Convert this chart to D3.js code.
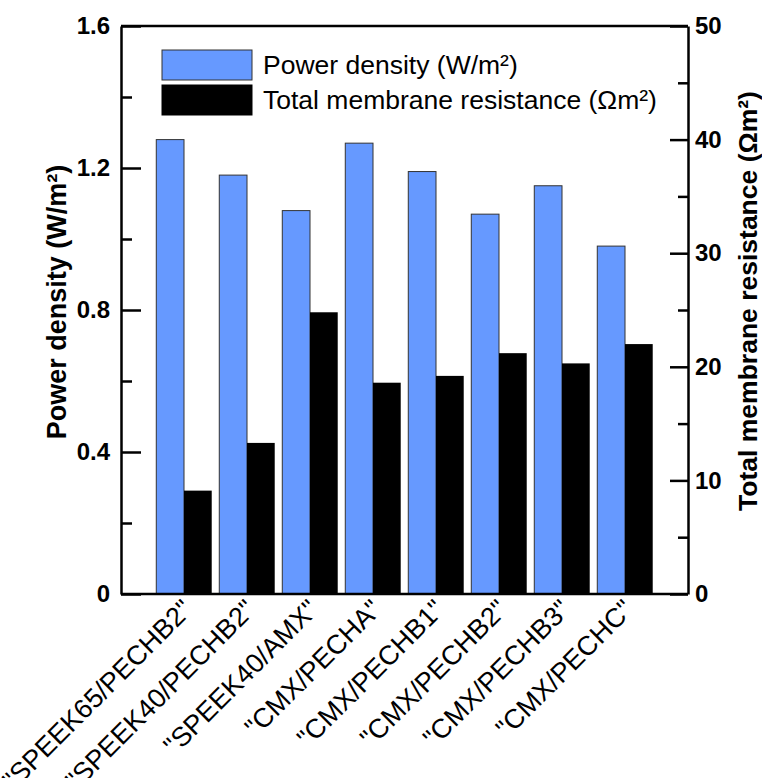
<!DOCTYPE html>
<html>
<head>
<meta charset="utf-8">
<script src="https://cdn.jsdelivr.net/npm/d3@7"></script>
<style>
    body { margin: 0; background: #fff; }
    text { font-family: "Liberation Sans", Arial, sans-serif; }
</style>
</head>
<body>
<div id="chart"></div>
<script>
// membrane pairs on the x axis
const pairs = [
    '"SPEEK65/PECHB2"',
    '"SPEEK40/PECHB2"',
    '"SPEEK40/AMX"',
    '"CMX/PECHA"',
    '"CMX/PECHB1"',
    '"CMX/PECHB2"',
    '"CMX/PECHB3"',
    '"CMX/PECHC"',
];
// power density, W/m2 (left axis)
const powerDensity = [1.28, 1.18, 1.08, 1.27, 1.19, 1.07, 1.15, 0.98];
// total membrane resistance, ohm m2 (right axis)
const resistance = [9.1, 13.3, 24.8, 18.6, 19.2, 21.2, 20.3, 22.0];

const leftTicks = [0, 0.4, 0.8, 1.2, 1.6];
const leftMinor = [0.2, 0.6, 1.0, 1.4];
const rightTicks = [0, 10, 20, 30, 40, 50];
const rightMinor = [5, 15, 25, 35, 45];

const legendLabels = ["Power density (W/m²)", "Total membrane resistance (Ωm²)"];

const paintChart = () => {
    const width = 762, height = 778;
    const left = 121, right = 688, top = 26, bottom = 594;
    const blue = "#6699ff";

    const svg = d3.select("#chart").append("svg")
        .attr("width", width)
        .attr("height", height);

    const x = d3.scaleLinear().domain([0, pairs.length + 1]).range([left, right]);
    const yL = d3.scaleLinear().domain([0, 1.6]).range([bottom, top]);
    const yR = d3.scaleLinear().domain([0, 50]).range([bottom, top]);
    const bw = 0.44; // bar width in x units

    // blue bars, left of each group centre
    svg.append("g")
        .selectAll("rect")
        .data(powerDensity)
        .enter()
        .append("rect")
        .attr("x", (d, i) => x(i + 1 - bw))
        .attr("width", x(bw) - x(0))
        .attr("y", d => yL(d))
        .attr("height", d => yL(0) - yL(d))
        .style("fill", blue)
        .style("stroke", "#333")
        .style("stroke-width", 1);

    // black bars, right of each group centre
    svg.append("g")
        .selectAll("rect")
        .data(resistance)
        .enter()
        .append("rect")
        .attr("x", (d, i) => x(i + 1))
        .attr("width", x(bw) - x(0))
        .attr("y", d => yR(d))
        .attr("height", d => yR(0) - yR(d))
        .style("fill", "#000");

    const fmtL = d => d === 0 ? "0" : d3.format(".1f")(d);

    // left axis, ticks pointing inward
    svg.append("g").attr("transform", `translate(${left},0)`)
        .call(d3.axisLeft(yL).tickValues(leftTicks).tickFormat(fmtL)
            .tickSizeInner(-20).tickSizeOuter(0).tickPadding(11));
    svg.append("g").attr("transform", `translate(${left},0)`)
        .call(d3.axisLeft(yL).tickValues(leftMinor).tickFormat("")
            .tickSizeInner(-11).tickSizeOuter(0))
        .select(".domain").remove();

    // right axis
    svg.append("g").attr("transform", `translate(${right},0)`)
        .call(d3.axisRight(yR).tickValues(rightTicks)
            .tickSizeInner(-18).tickSizeOuter(0).tickPadding(7));
    svg.append("g").attr("transform", `translate(${right},0)`)
        .call(d3.axisRight(yR).tickValues(rightMinor).tickFormat("")
            .tickSizeInner(-10).tickSizeOuter(0))
        .select(".domain").remove();

    svg.selectAll(".tick line").style("stroke", "#000").style("stroke-width", 2.5);
    svg.selectAll(".domain").style("stroke", "#000").style("stroke-width", 2.5);
    svg.selectAll(".tick text")
        .style("font-family", '"Liberation Sans", Arial, sans-serif')
        .style("font-size", "24px")
        .style("font-weight", "bold")
        .style("fill", "#000");

    // top and bottom frame
    svg.append("line").attr("x1", left).attr("x2", right).attr("y1", top).attr("y2", top)
        .style("stroke", "#000").style("stroke-width", 2.5);
    svg.append("line").attr("x1", left).attr("x2", right).attr("y1", bottom).attr("y2", bottom)
        .style("stroke", "#000").style("stroke-width", 2.5);

    // x labels, rotated
    svg.append("g")
        .selectAll("text")
        .data(pairs)
        .enter()
        .append("text")
        .attr("transform", (d, i) => `translate(${x(i + 1) + 10},${bottom + 17}) rotate(-45)`)
        .attr("text-anchor", "end")
        .style("font-size", "27px")
        .text(d => d);

    // axis titles
    svg.append("text")
        .attr("transform", `translate(66,302) rotate(-90)`)
        .attr("text-anchor", "middle")
        .style("font-size", "27px")
        .style("font-weight", "bold")
        .text("Power density (W/m²)");
    svg.append("text")
        .attr("transform", `translate(757,301) rotate(-90)`)
        .attr("text-anchor", "middle")
        .style("font-size", "26.5px")
        .style("font-weight", "bold")
        .text("Total membrane resistance (Ωm²)");

    // legend
    const legend = svg.append("g");
    legend.selectAll("rect")
        .data(legendLabels)
        .enter()
        .append("rect")
        .attr("x", 162)
        .attr("y", (d, i) => 50 + i * 35)
        .attr("width", 90)
        .attr("height", 30)
        .style("fill", (d, i) => i === 0 ? blue : "#000")
        .style("stroke", (d, i) => i === 0 ? "#333" : "#000")
        .style("stroke-width", 1);
    legend.selectAll("text")
        .data(legendLabels)
        .enter()
        .append("text")
        .attr("x", 263)
        .attr("y", (d, i) => 65 + i * 35)
        .attr("dy", "0.35em")
        .style("font-size", "26.5px")
        .text(d => d);
};

document.addEventListener("DOMContentLoaded", paintChart);
</script>
</body>
</html>
